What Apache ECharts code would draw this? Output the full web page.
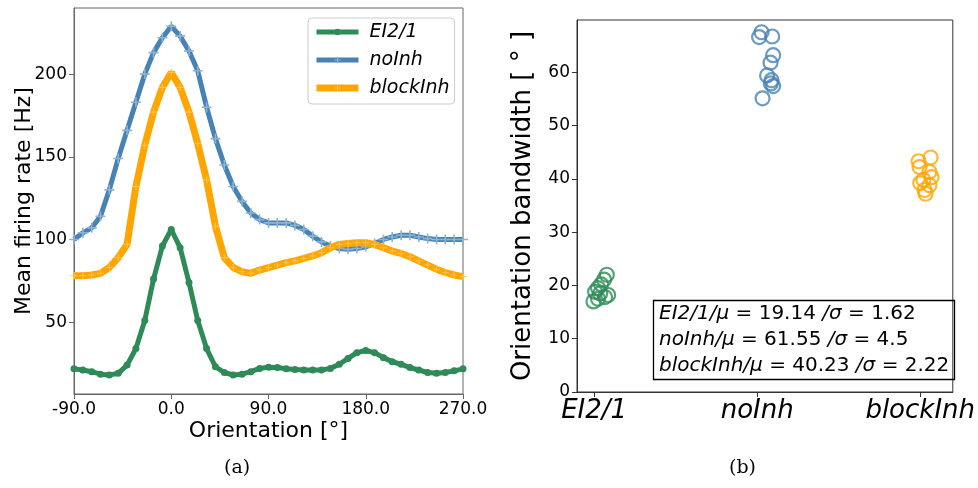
<!DOCTYPE html>
<html>
<head>
<meta charset="utf-8">
<script src="https://cdn.jsdelivr.net/npm/echarts@6/dist/echarts.min.js"></script>
<style>
html,body{margin:0;padding:0;background:#fff;}
#chart{width:978px;height:488px;}
</style>
</head>
<body>
<div id="chart"></div>
<script>
// ---- Data: panel (a) tuning curves ----
const orientation = [-90.0, -81.8, -73.6, -65.5, -57.3, -49.1, -40.9, -32.7, -24.5, -16.4, -8.2, 0.0,
  8.2, 16.4, 24.5, 32.7, 40.9, 49.1, 57.3, 65.5, 73.6, 81.8, 90.0, 98.2, 106.4, 114.5, 122.7, 130.9,
  139.1, 147.3, 155.5, 163.6, 171.8, 180.0, 188.2, 196.4, 204.5, 212.7, 220.9, 229.1, 237.3, 245.5,
  253.6, 261.8, 270.0];
const rateEI = [21.7, 21, 20, 18.5, 18, 19, 24, 34, 51, 76, 96, 106, 95, 74, 51, 34, 23, 19.5, 18, 18.5,
  20, 22, 22.7, 22.5, 21.8, 21.3, 21, 21, 21, 22, 24.5, 28, 31.5, 32.8, 31.5, 28.5, 26, 24.5, 22.5, 21,
  19.5, 19, 19.5, 20.5, 21.7];
const rateNoInh = [100, 104, 107, 114, 130, 149, 166, 183, 200, 213, 222, 229, 223, 214, 202, 180, 161,
  145, 132, 123, 116, 112, 110, 110, 110, 108.5, 106, 102, 98.5, 96, 94.5, 94, 94.5, 95.5, 97.5, 100,
  101.5, 102.5, 102.5, 101.5, 100.5, 100, 100, 100, 100];
const rateBlockInh = [78, 78, 78.5, 79.5, 83, 89, 97, 132, 157, 177, 192, 201, 192, 177, 158, 136, 108,
  89, 83, 80.5, 79.5, 81.5, 83, 84.5, 86, 87, 88.5, 90, 92, 95, 97, 97.5, 98, 98, 97, 95, 93, 91.5, 89.5,
  87, 84.5, 82, 80, 78.5, 77.5];
const xTicksA = [-90, 0, 90, 180, 270];
const yTicksA = [50, 100, 150, 200];

// ---- Data: panel (b) orientation bandwidths ----
const groups = ['EI2/1', 'noInh', 'blockInh'];
const bwEI = [22.0, 21.1, 20.2, 19.5, 18.8, 18.5, 18.2, 17.8, 17.5, 17.0];
const bwEIpos = [0.078, 0.061, 0.043, 0.024, 0.006, 0.037, 0.086, 0.067, 0.024, -0.004];
const bwNoInh = [67.5, 66.6, 66.7, 63.2, 61.8, 59.4, 58.5, 57.4, 55.1, 57.9];
const bwNoInhPos = [1.027, 1.012, 1.092, 1.098, 1.082, 1.061, 1.088, 1.098, 1.033, 1.084];
const bwBlock = [44.0, 43.3, 42.2, 41.3, 40.3, 39.8, 39.2, 38.8, 37.9, 37.2];
const bwBlockPos = [2.064, 1.99, 1.996, 2.057, 2.07, 2.02, 2.0, 2.057, 2.027, 2.033];
const yTicksB = [0, 10, 20, 30, 40, 50, 60];
const stats = [['EI2/1', '19.14', '1.62'], ['noInh', '61.55', '4.5'], ['blockInh', '40.23', '2.22']];

const GREEN = '#2e8b57', BLUE = '#4682b4', ORANGE = '#ffa500';
const FONT = 'DejaVu Sans';
const PLUS = 'path://M4.2,0H5.8V4.2H10V5.8H5.8V10H4.2V5.8H0V4.2H4.2Z';

const pair = (xs, ys) => xs.map((x, i) => [x, ys[i]]);

const chart = echarts.init(document.getElementById('chart'), null, {renderer: 'canvas'});

const statText = stats.map(s => `{i|${s[0]}/μ}{n| = ${s[1]} }{i|/σ}{n| = ${s[2]}}`).join('\n');

chart.setOption({
  animation: false,
  backgroundColor: '#fff',
  title: [{
    left: 653, top: 297,
    text: statText,
    borderColor: '#000', borderWidth: 1.3,
    padding: [4, 5, 4, 6],
    textStyle: {
      fontWeight: 'normal',
      rich: {
        i: {fontFamily: FONT, fontSize: 20, fontStyle: 'italic', fontWeight: 'normal', color: '#000', lineHeight: 26},
        n: {fontFamily: FONT, fontSize: 20, fontWeight: 'normal', color: '#000', lineHeight: 26}
      }
    }
  }],
  legend: {
    data: [
      {name: 'EI2/1', lineStyle: {width: 5}},
      {name: 'noInh', lineStyle: {width: 5}},
      {name: 'blockInh', lineStyle: {width: 7}}
    ],
    orient: 'vertical',
    left: 308, top: 18,
    padding: [3, 5, 5, 5],
    itemWidth: 42, itemHeight: 8, itemGap: 6,
    borderColor: '#cccccc', borderWidth: 1, borderRadius: 4,
    backgroundColor: '#fff',
    textStyle: {fontFamily: FONT, fontSize: 19, fontStyle: 'italic', color: '#000', padding: [0, 0, 0, 6], lineHeight: 22}
  },
  graphic: [
    {type: 'text', left: 224, top: 459, style: {text: '(a)', font: '19px "DejaVu Serif"', fill: '#000'}},
    {type: 'text', left: 729, top: 459, style: {text: '(b)', font: '19px "DejaVu Serif"', fill: '#000'}}
  ],
  grid: [
    {left: 74, top: 8, width: 389, height: 386, show: true, borderColor: '#666', borderWidth: 1, containLabel: false},
    {left: 577, top: 20, width: 376, height: 372, show: true, borderColor: '#333', borderWidth: 1, containLabel: false}
  ],
  xAxis: [
    {
      type: 'value', gridIndex: 0, min: -90, max: 270, interval: 90,
      name: 'Orientation [°]', nameLocation: 'middle', nameGap: 26, nameMoveOverlap: false,
      nameTextStyle: {fontFamily: FONT, fontSize: 22, color: '#000'},
      axisLine: {onZero: false, lineStyle: {color: '#666'}},
      axisTick: {show: true, length: 5, lineStyle: {color: '#666'}, customValues: xTicksA},
      axisLabel: {fontFamily: FONT, fontSize: 17, color: '#000', margin: 7, customValues: xTicksA,
        formatter: v => v.toFixed(1)},
      splitLine: {show: false}
    },
    {
      type: 'value', gridIndex: 1, min: -0.105, max: 2.2,
      axisLine: {onZero: false, lineStyle: {color: '#333'}},
      axisTick: {show: true, length: 5, lineStyle: {color: '#333'}, customValues: [0, 1, 2]},
      axisLabel: {fontFamily: FONT, fontSize: 26, fontStyle: 'italic', color: '#000', margin: 6,
        customValues: [0, 1, 2], formatter: v => groups[Math.round(v)]},
      splitLine: {show: false}
    }
  ],
  yAxis: [
    {
      type: 'value', gridIndex: 0, min: 6.5, max: 240,
      name: 'Mean firing rate [Hz]', nameLocation: 'middle', nameGap: 39, nameMoveOverlap: false,
      nameTextStyle: {fontFamily: FONT, fontSize: 22, color: '#000'},
      axisLine: {show: true, onZero: false, lineStyle: {color: '#666'}},
      axisTick: {show: true, length: 5, lineStyle: {color: '#666'}, customValues: yTicksA},
      axisLabel: {fontFamily: FONT, fontSize: 17, color: '#000', margin: 7, customValues: yTicksA},
      splitLine: {show: false}
    },
    {
      type: 'value', gridIndex: 1, min: 0, max: 69.8,
      name: 'Orientation bandwidth [ ° ]', nameLocation: 'middle', nameGap: 41,
      nameTextStyle: {fontFamily: FONT, fontSize: 26, color: '#000'},
      axisLine: {show: true, onZero: false, lineStyle: {color: '#333'}},
      axisTick: {show: true, length: 5, lineStyle: {color: '#333'}, customValues: yTicksB},
      axisLabel: {fontFamily: FONT, fontSize: 17, color: '#000', margin: 7, customValues: yTicksB},
      splitLine: {show: false}
    }
  ],
  series: [
    {
      name: 'EI2/1', type: 'line', xAxisIndex: 0, yAxisIndex: 0,
      data: pair(orientation, rateEI),
      symbol: 'circle', symbolSize: 7, showAllSymbol: true,
      lineStyle: {color: GREEN, width: 5},
      itemStyle: {color: GREEN, borderWidth: 0},
      z: 2
    },
    {
      name: 'noInh', type: 'line', xAxisIndex: 0, yAxisIndex: 0,
      data: pair(orientation, rateNoInh),
      symbol: PLUS, symbolSize: 10, showAllSymbol: true,
      lineStyle: {color: BLUE, width: 5},
      itemStyle: {color: '#8db2d3', borderWidth: 0},
      z: 3
    },
    {
      name: 'blockInh', type: 'line', xAxisIndex: 0, yAxisIndex: 0,
      data: pair(orientation, rateBlockInh),
      symbol: PLUS, symbolSize: 7, showAllSymbol: true,
      lineStyle: {color: ORANGE, width: 7},
      itemStyle: {color: '#ffc24d', borderWidth: 0},
      z: 4
    },
    {
      name: 'bw-EI', type: 'scatter', xAxisIndex: 1, yAxisIndex: 1,
      data: pair(bwEIpos, bwEI), symbol: 'circle', symbolSize: 14,
      itemStyle: {color: 'rgba(0,0,0,0)', borderColor: GREEN, borderWidth: 2.2}
    },
    {
      name: 'bw-noInh', type: 'scatter', xAxisIndex: 1, yAxisIndex: 1,
      data: pair(bwNoInhPos, bwNoInh), symbol: 'circle', symbolSize: 14,
      itemStyle: {color: 'rgba(0,0,0,0)', borderColor: BLUE, borderWidth: 2.2}
    },
    {
      name: 'bw-block', type: 'scatter', xAxisIndex: 1, yAxisIndex: 1,
      data: pair(bwBlockPos, bwBlock), symbol: 'circle', symbolSize: 14,
      itemStyle: {color: 'rgba(0,0,0,0)', borderColor: ORANGE, borderWidth: 2.2}
    }
  ]
});
</script>
</body>
</html>
